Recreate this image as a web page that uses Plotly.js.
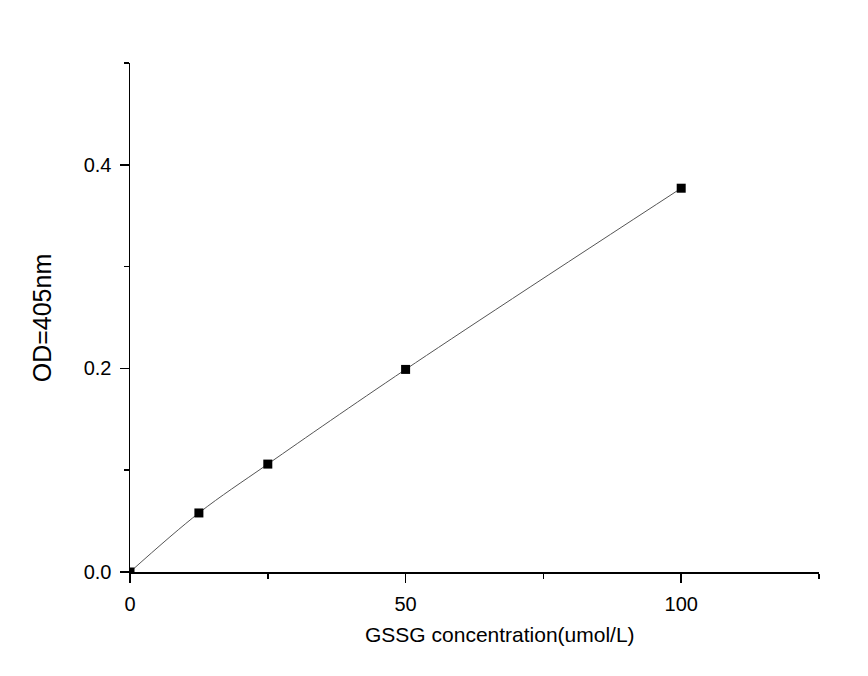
<!DOCTYPE html>
<html>
<head>
<meta charset="utf-8">
<script src="https://cdn.plot.ly/plotly-3.0.1.min.js"></script>
<style>
  html, body { margin: 0; padding: 0; background: #fff; }
  #chart { width: 868px; height: 676px; }
</style>
</head>
<body>
<div id="chart"></div>
<script>
// GSSG standard curve
const concentration = [0, 12.5, 25, 50, 100];
const od405 = [0.0, 0.058, 0.106, 0.199, 0.377];

const xTickVals = [0, 50, 100];
const yTickVals = [0.0, 0.2, 0.4];
const yTickText = ['0.0', '0.2', '0.4'];
const xTitle = 'GSSG concentration(umol/L)';
const yTitle = 'OD=405nm';

const fitLine = {
    x: concentration,
    y: od405,
    mode: 'lines',
    type: 'scatter',
    line: { color: '#555', width: 1, shape: 'spline', smoothing: 1.0 },
    hoverinfo: 'skip',
    showlegend: false
};

const points = {
    x: concentration,
    y: od405,
    mode: 'markers',
    type: 'scatter',
    marker: { symbol: 'square', size: 9, color: '#000' },
    showlegend: false
};

const fam = 'Liberation Sans, Arial, sans-serif';
const tickFont = { family: fam, size: 20, color: '#000' };

const layout = {
    width: 868,
    height: 676,
    paper_bgcolor: '#fff',
    plot_bgcolor: '#fff',
    margin: { l: 130, r: 49, t: 63, b: 104 },
    font: tickFont,
    xaxis: {
        range: [0, 125],
        tickvals: xTickVals,
        ticks: 'outside',
        ticklen: 9,
        tickwidth: 1.5,
        tickcolor: '#000',
        ticklabelstandoff: 4,
        minor: { dtick: 25, tick0: 0, ticks: 'outside', ticklen: 5, tickwidth: 1.5, tickcolor: '#000' },
        showline: true,
        linecolor: '#000',
        linewidth: 1.5,
        showgrid: false,
        zeroline: false,
        tickfont: tickFont
    },
    yaxis: {
        range: [0, 0.5],
        tickvals: yTickVals,
        ticktext: yTickText,
        ticks: 'outside',
        ticklen: 9,
        tickwidth: 1.5,
        tickcolor: '#000',
        ticklabelstandoff: 4,
        minor: { dtick: 0.1, tick0: 0, ticks: 'outside', ticklen: 5, tickwidth: 1.5, tickcolor: '#000' },
        showline: true,
        linecolor: '#000',
        linewidth: 1.5,
        showgrid: false,
        zeroline: false,
        tickfont: tickFont
    },
    annotations: [
        // x title sits a little right of the axis centre in the original
        {
            text: xTitle, xref: 'paper', yref: 'paper', x: 0.537, y: -0.122,
            xanchor: 'center', yanchor: 'middle', showarrow: false,
            font: { family: fam, size: 21, color: '#000' }
        },
        {
            text: yTitle, xref: 'paper', yref: 'paper', x: -0.128, y: 0.5,
            xanchor: 'center', yanchor: 'middle', showarrow: false, textangle: -90,
            font: { family: fam, size: 25, color: '#000' }
        }
    ]
};

Plotly.newPlot('chart', [fitLine, points], layout, { displayModeBar: false, staticPlot: true });
</script>
</body>
</html>
